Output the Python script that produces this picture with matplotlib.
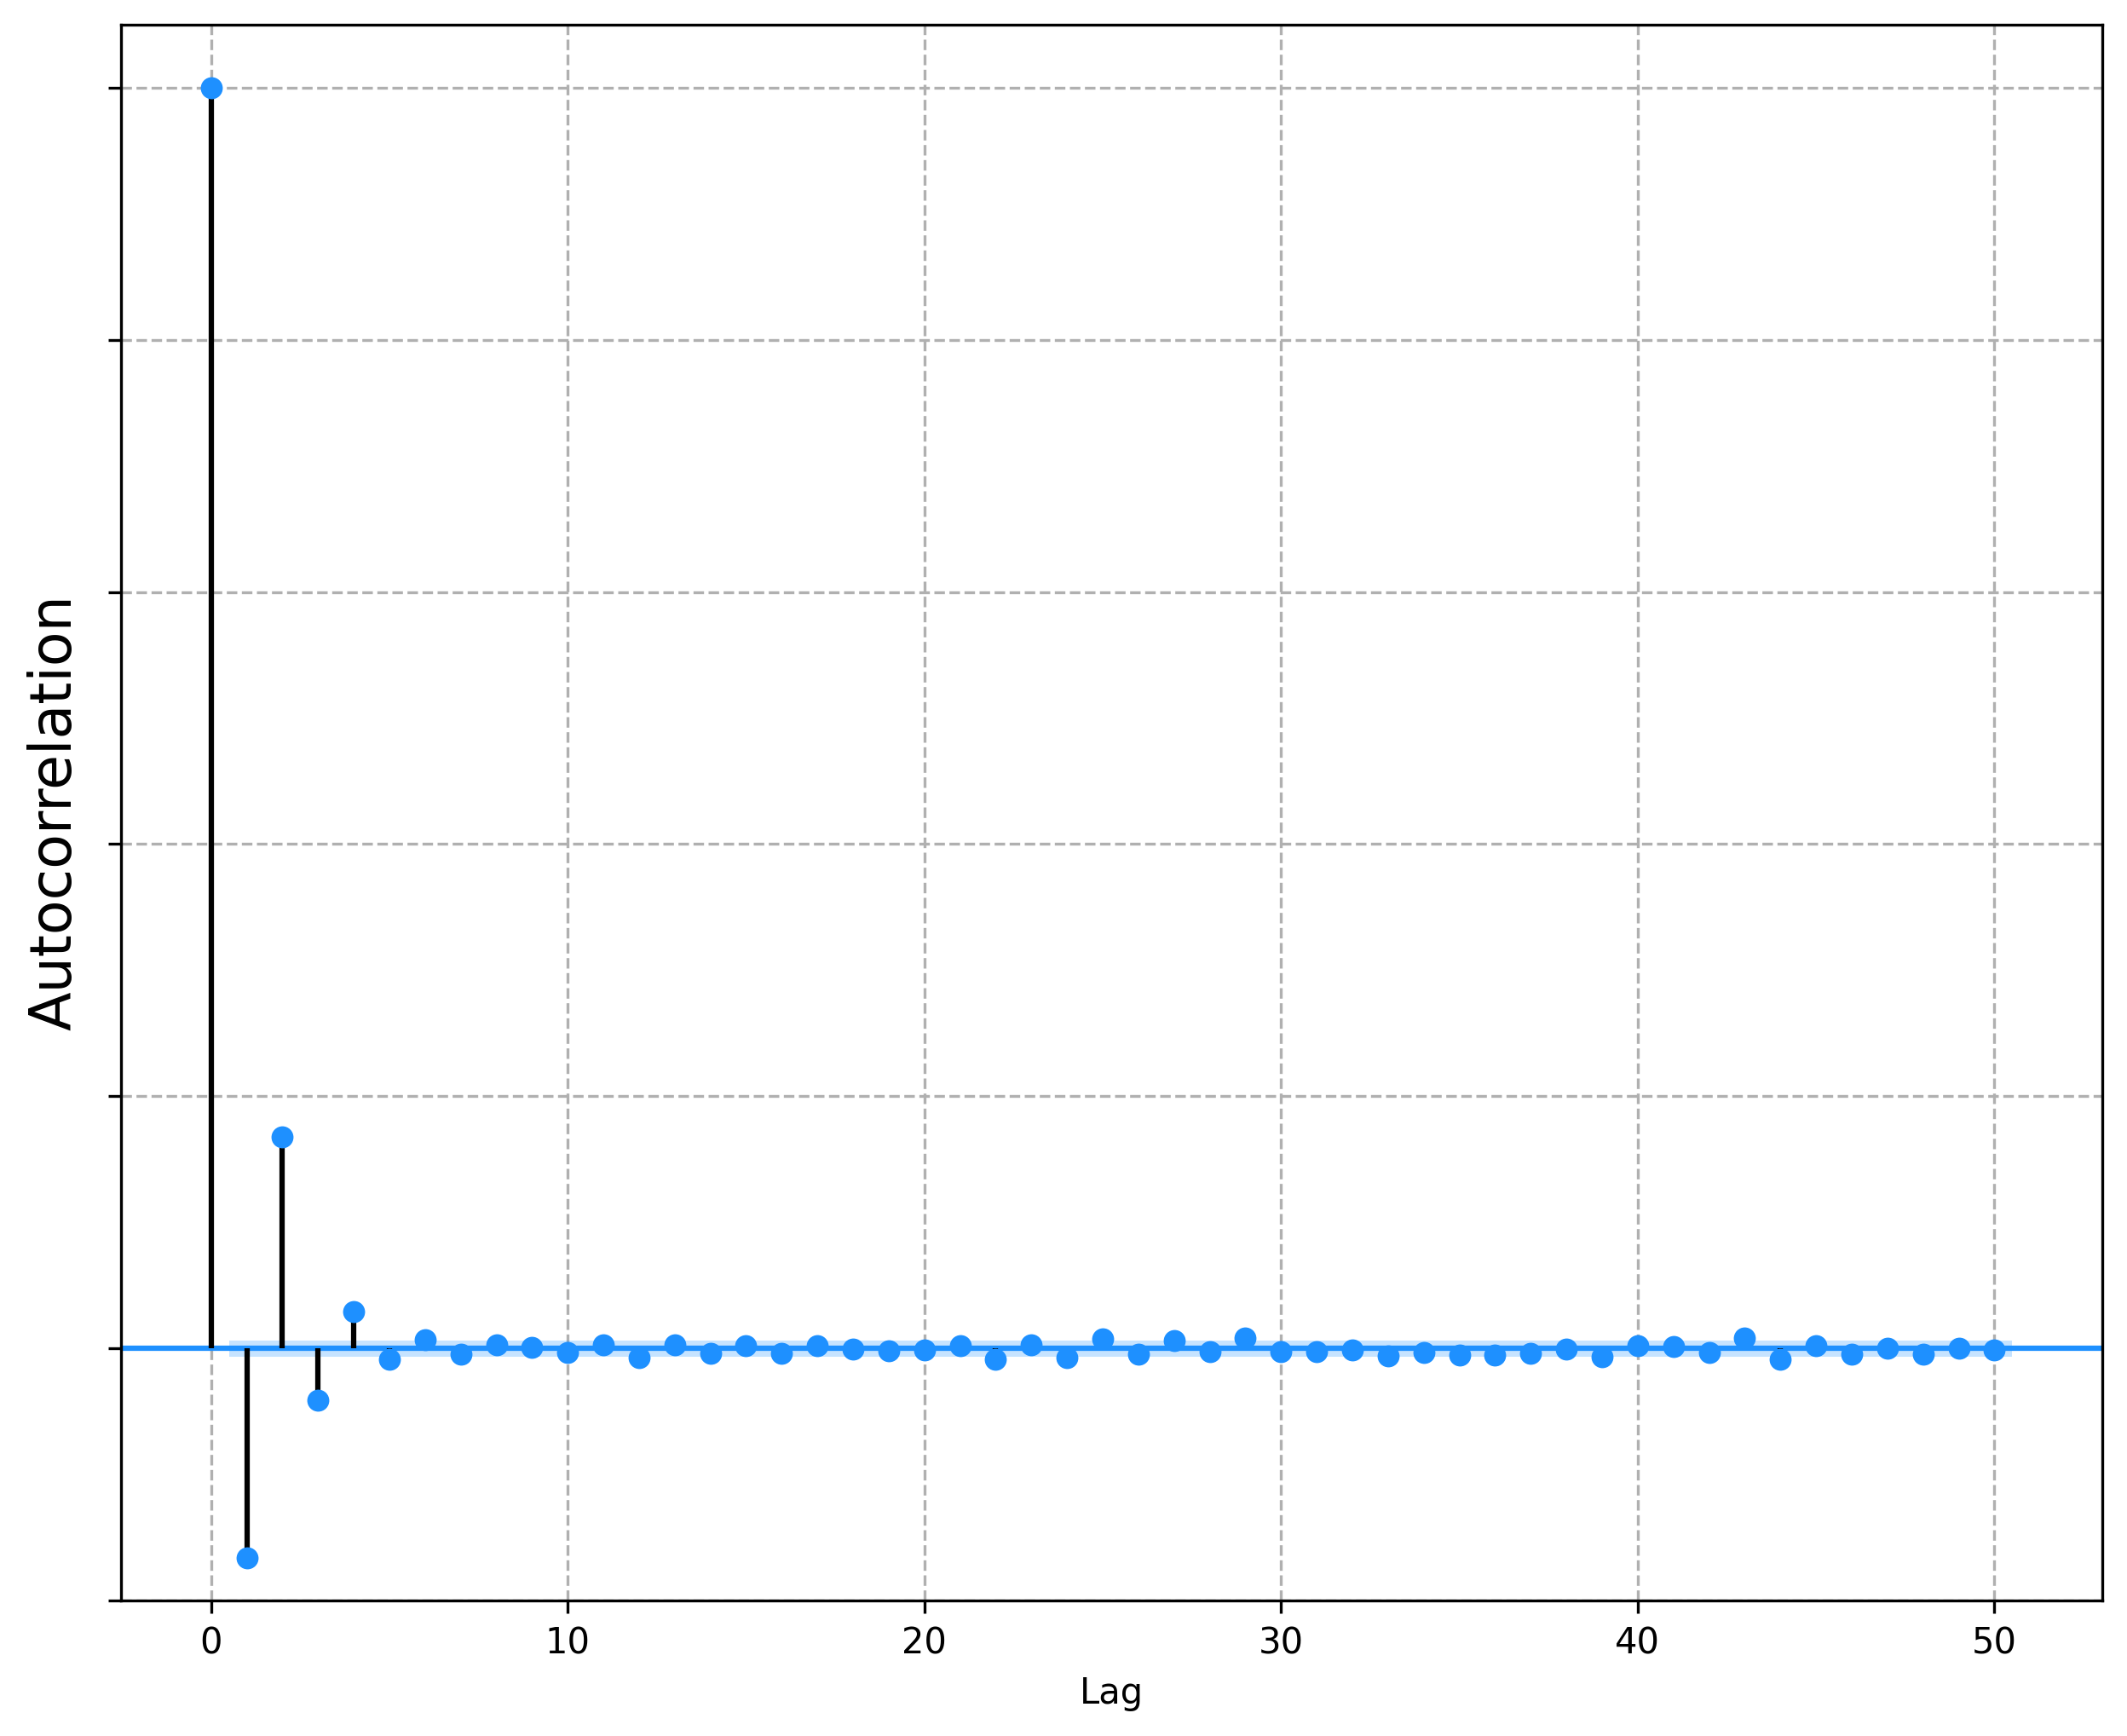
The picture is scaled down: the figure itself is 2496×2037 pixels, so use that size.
import matplotlib
matplotlib.use("Agg")
import matplotlib.pyplot as plt
import numpy as np

lags = list(range(51))
acf_values = [
    1.0, -0.166, 0.168, -0.041, 0.029, -0.0086, 0.0068, -0.0045, 0.0025, 0.0011,
    -0.0032, 0.0025, -0.0072, 0.0025, -0.0041, 0.0018, -0.0041, 0.0018, -0.0009, -0.0016,
    -0.0011, 0.0018, -0.0090, 0.0027, -0.0070, 0.0075, -0.0043, 0.0061, -0.0029, 0.0081,
    -0.0029, -0.0023, -0.0011, -0.0059, -0.0036, -0.0050, -0.0050, -0.0040, -0.0007, -0.0068,
    0.0023, 0.0016, -0.0032, 0.0084, -0.0090, 0.0023, -0.0045, 0.0002, -0.0045, 0.0002,
    -0.0011,
]
conf_half_width = 0.0064
y_ticks = [-0.2, 0.0, 0.2, 0.4, 0.6, 0.8, 1.0]
x_ticks = [0, 10, 20, 30, 40, 50]

fig = plt.figure(figsize=(2496 / 300, 2037 / 300), dpi=300)
ax = fig.add_axes([142 / 2496, (2037 - 1878) / 2037, 2325 / 2496, 1849 / 2037])

lag_arr = np.array(lags, dtype=float)
vals = np.array(acf_values)

# confidence band
band_x = np.concatenate([[lag_arr[1] - 0.5], lag_arr[1:], [lag_arr[-1] + 0.5]])
band_hw = np.full(band_x.shape, conf_half_width)
ax.fill_between(band_x, -band_hw, band_hw, color="#1E90FF", alpha=0.25, linewidth=0, zorder=1)

ax.axhline(0, color="#1E90FF", linewidth=1.5, zorder=2)
ax.vlines(lag_arr, 0, vals, colors="black", linewidth=1.5, zorder=3)
ax.plot(lag_arr, vals, "o", color="#1E90FF", markersize=6.2, markeredgewidth=0, zorder=4)

ax.set_ylim(-0.2, 1.05)
ax.margins(x=0.05)
ax.set_yticks(y_ticks)
ax.set_yticklabels([])
ax.set_xticks(x_ticks)
ax.tick_params(labelsize=10)
ax.grid(True, linestyle="--", color="#b0b0b0", linewidth=0.8)
ax.set_axisbelow(True)

ax.set_xlabel("Lag", fontsize=10)
ax.set_ylabel("Autocorrelation", fontsize=16)
ax.yaxis.set_label_coords(-0.019, 0.5)

fig.savefig("out.png", dpi=300)
